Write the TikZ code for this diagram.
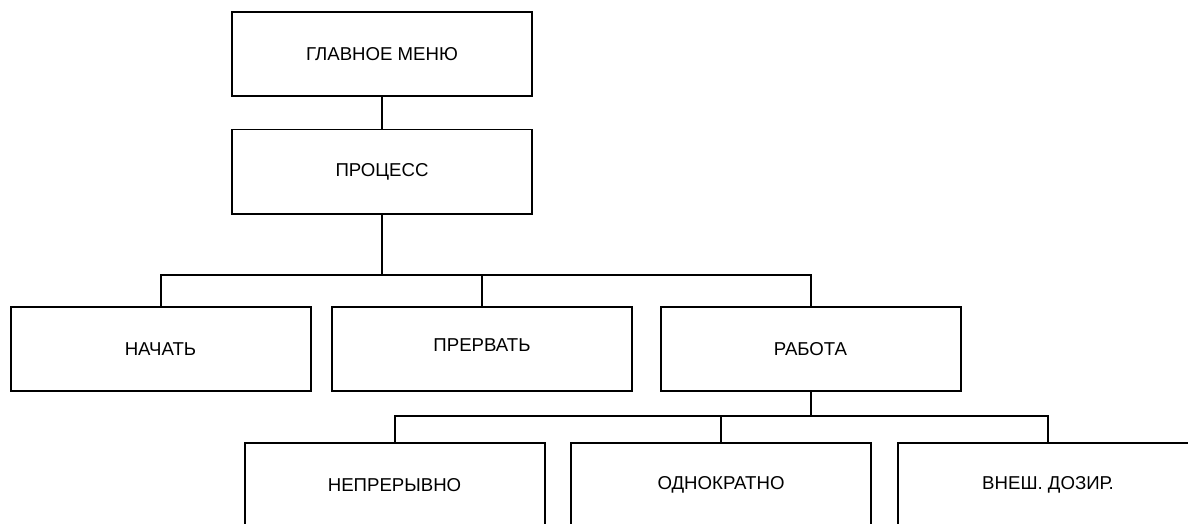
\documentclass[tikz,border=0pt]{standalone}
\usepackage{fontspec}
\setmainfont{Liberation Sans}

\begin{document}
\begin{tikzpicture}[
    menubox/.style={draw, line width=.04cm, minimum width=6cm, minimum height=1.68cm,
      inner sep=0pt, outer sep=0pt, font=\fontsize{10.6}{12}\selectfont},
    link/.style={line width=.04cm}]
    \useasboundingbox (0,0) rectangle (23.76,-10.48);

    \node[menubox] (menu) at (7.64,-1.08) {ГЛАВНОЕ МЕНЮ};
    \node[menubox] (proc) at (7.64,-3.43) {ПРОЦЕСС};

    \node[menubox] (start) at (3.21,-6.98) {НАЧАТЬ};
    \node[menubox] (abort) at (9.64,-6.98) {\raisebox{.14cm}{ПРЕРВАТЬ}};
    \node[menubox] (work) at (16.21,-6.98) {РАБОТА};

    \node[menubox] (cont) at (7.89,-9.70) {НЕПРЕРЫВНО};
    \node[menubox] (once) at (14.42,-9.70) {ОДНОКРАТНО};
    \node[menubox] (ext) at (20.96,-9.70) {ВНЕШ. ДОЗИР.};

    \coordinate (upper) at (0,-5.5);
    \coordinate (lower) at (0,-8.32);

    \draw[link] (menu) -- (proc);
    \draw[link] (proc.south) -- (proc.south |- upper);
    \draw[link] (start.north) |- (work.north |- upper) -- (work.north);
    \draw[link] (abort.north) -- (abort.north |- upper);

    \draw[link] (work.south) -- (work.south |- lower);
    \draw[link] (cont.north) |- (ext.north |- lower) -- (ext.north);
    \draw[link] (once.north) -- (once.north |- lower);
  \end{tikzpicture}
\end{document}
